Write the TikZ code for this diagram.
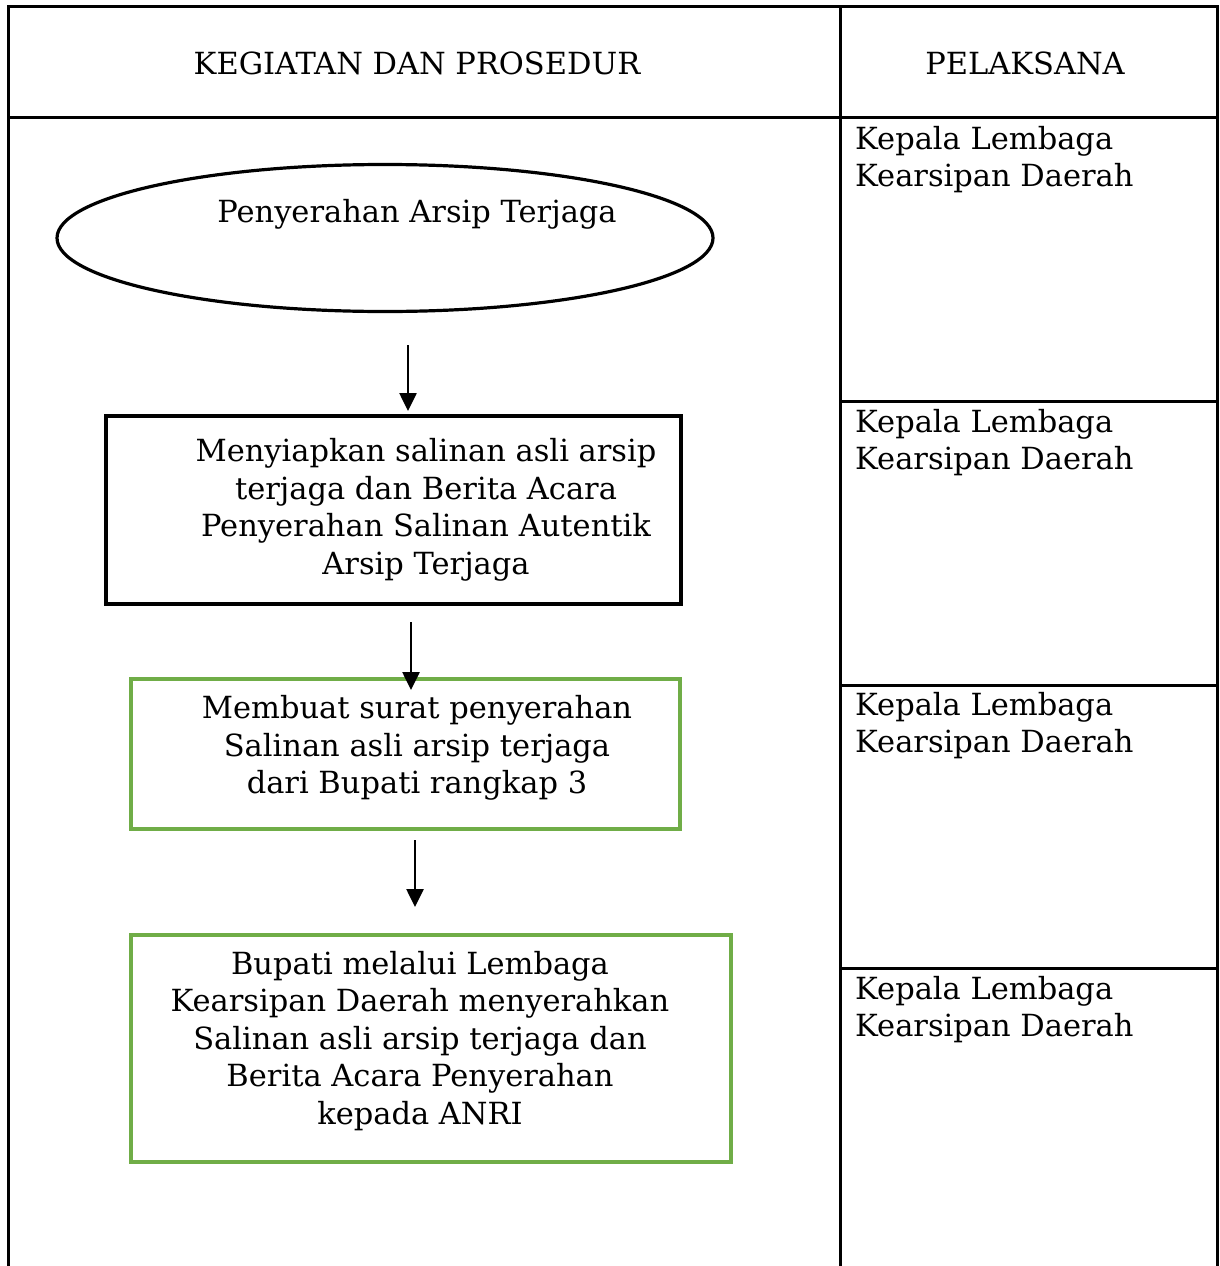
\documentclass[tikz,border=0pt]{standalone}
\usepackage{fontspec}
\setmainfont{DejaVu Serif}
\usetikzlibrary{shapes.geometric,arrows.meta}
\definecolor{boxgreen}{HTML}{70AD47}
\tikzset{
  tableline/.style={line width=3pt,black},
  txt/.style={font=\fontsize{30.5}{37.5}\selectfont,align=center,inner sep=0pt},
  ltxt/.style={font=\fontsize{30.5}{37.5}\selectfont,align=left,inner sep=0pt,anchor=north west},
  blackbox/.style={draw=black,line width=3.2pt,rectangle,inner sep=0pt},
  greenbox/.style={draw=boxgreen,line width=3.4pt,rectangle,inner sep=0pt},
  flow/.style={line width=2.6pt,-{Triangle[length=18pt,width=17pt]}},
}
\begin{document}
\begin{tikzpicture}[x=1pt,y=-1pt]
\useasboundingbox (0,0) rectangle (1219,1266);
\fill[white] (0,0) rectangle (1219,1266);
% table
\draw[tableline] (8,1266) -- (8,6) -- (1217,6) -- (1217,1266);
\draw[tableline] (840,6) -- (840,1266);
\draw[tableline] (8,117) -- (1217,117);
\draw[tableline] (840,401) -- (1217,401);
\draw[tableline] (840,685) -- (1217,685);
\draw[tableline] (840,968) -- (1217,968);
\node[txt] (h1) at (417,63) {KEGIATAN DAN PROSEDUR};
\node[txt] (h2) at (1025,63) {PELAKSANA};
% pelaksana
\node[ltxt] (p1) at (855,126) {Kepala Lembaga\\Kearsipan Daerah};
\node[ltxt] (p2) at (855,409) {Kepala Lembaga\\Kearsipan Daerah};
\node[ltxt] (p3) at (855,692) {Kepala Lembaga\\Kearsipan Daerah};
\node[ltxt] (p4) at (855,976) {Kepala Lembaga\\Kearsipan Daerah};
% start
\node[draw,line width=3.2pt,ellipse,minimum width=656pt,minimum height=147pt,inner sep=0pt] (start) at (385,238) {};
\node[txt] (starttxt) at (417,214) {Penyerahan Arsip Terjaga};
% box 1
\node[blackbox,minimum width=575pt,minimum height=188pt] (b1) at (393.5,510) {};
\node[txt] (b1t) at (426,510) {Menyiapkan salinan asli arsip\\terjaga dan Berita Acara\\Penyerahan Salinan Autentik\\Arsip Terjaga};
% box 2
\node[greenbox,minimum width=549pt,minimum height=150pt] (b2) at (405.5,754) {};
\node[txt] (b2t) at (417,748) {Membuat surat penyerahan\\Salinan asli arsip terjaga\\dari Bupati rangkap 3};
% box 3
\node[greenbox,minimum width=600pt,minimum height=227pt] (b3) at (431,1048.5) {};
\node[txt] (b3t) at (420,1041) {Bupati melalui Lembaga\\Kearsipan Daerah menyerahkan\\Salinan asli arsip terjaga dan\\Berita Acara Penyerahan\\kepada ANRI};
% arrows
\coordinate (a1s) at (408,345); \coordinate (a1e) at (408,411);
\coordinate (a2s) at (411,622); \coordinate (a2e) at (411,690);
\coordinate (a3s) at (415,840); \coordinate (a3e) at (415,907);
\draw[flow] (a1s) -- (a1e);
\draw[flow] (a2s) -- (a2e);
\draw[flow] (a3s) -- (a3e);
\end{tikzpicture}
\end{document}
